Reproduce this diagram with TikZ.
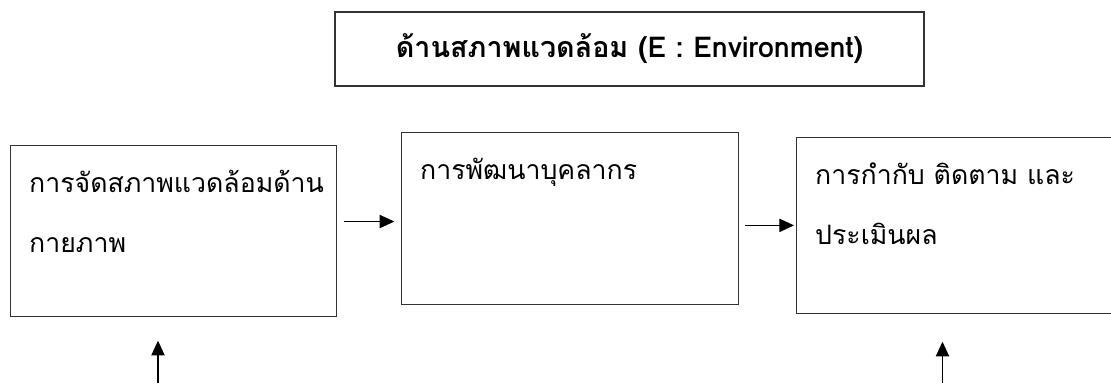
\documentclass[tikz,border=0pt]{standalone}
\usepackage{fontspec}
\newfontfamily\thaifont[Script=Thai]{Loma}
\usepackage{tikz}
\usetikzlibrary{positioning}
\usetikzlibrary{arrows.meta}
\usetikzlibrary{calc}
\tikzstyle{line} = [draw, line width=0.8pt, -{Triangle[length=11pt,width=10pt]}]

\begin{document}
\begin{tikzpicture}[x=0.75pt, y=-0.75pt,
				stepbox/.style = {draw=black!80, line width=0.8pt, rectangle,
					anchor=north west, align=left,
					inner xsep=14pt, inner ysep=0pt,
					text height=35pt,
					font=\thaifont\fontsize{20}{45}\selectfont},
				envbox/.style = {draw=black!80, line width=0.8pt, rectangle,
					minimum width=441.75pt, minimum height=55.5pt,
					font=\thaifont\bfseries\fontsize{21.5}{24}\selectfont}]
				
				\useasboundingbox (0,0) rectangle (1111,383);
				
				% Environment
				\node[envbox] (E) at (629.5,49) {ด้านสภาพแวดล้อม (E : Environment)};
				
				% Steps
				\node[stepbox, text width=216.5pt, text depth=93pt] (A) at (10,145)
					{การจัดสภาพแวดล้อมด้าน\\กายภาพ};
				\node[stepbox, text width=224.75pt, text depth=93.75pt] (B) at (401,132)
					{การพัฒนาบุคลากร};
				\node[stepbox, text width=226pt, text depth=96.75pt] (C) at (796,137)
					{การกำกับ ติดตาม และ\\ประเมินผล};
				
				% Inputs
				\coordinate (inA) at (158,383);
				\coordinate (inC) at (942.5,383);
				
				% Arrows
				\draw[line, shorten <=5pt, shorten >=5pt] ([yshift=7pt]A.east) -- ([yshift=7pt]A.east -| B.west);
				\draw[line, shorten <=4.5pt, shorten >=1.5pt] (B.east |- C.west) -- (C.west);
				\draw[line, shorten >=18pt] (inA) -- (inA |- A.south);
				\draw[line, shorten >=21pt] (inC) -- (inC |- C.south);
				
			\end{tikzpicture}
\end{document}
